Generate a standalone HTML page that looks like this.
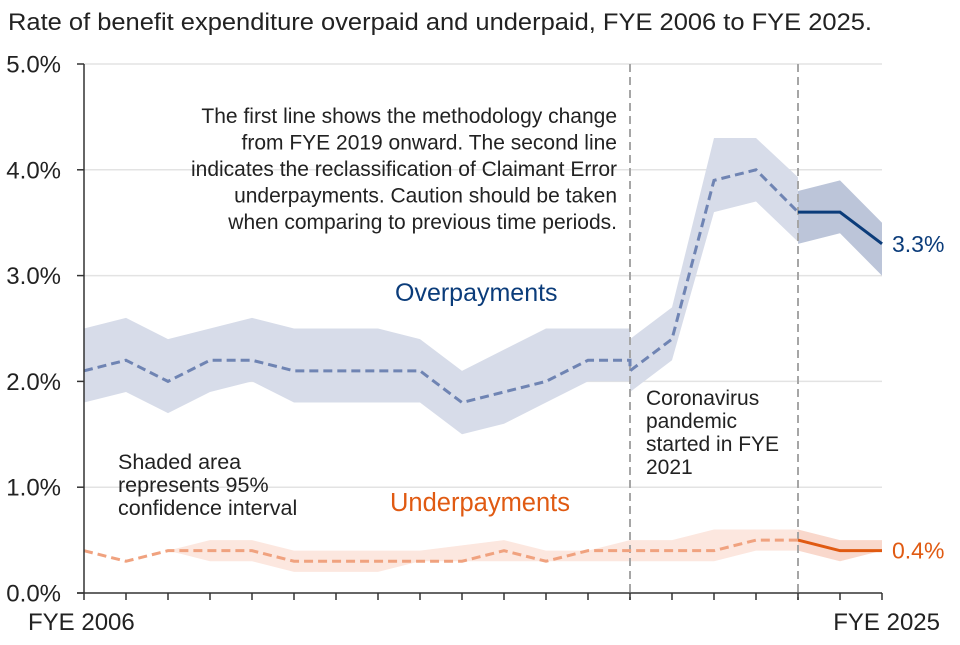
<!DOCTYPE html>
<html><head><meta charset="utf-8"><style>
body{margin:0;background:#fff;font-family:"Liberation Sans",Arial,sans-serif}
svg text{font-family:"Liberation Sans",Arial,sans-serif}
</style></head><body>
<svg id="c" width="960" height="640" xmlns="http://www.w3.org/2000/svg">
<text x="8" y="30" font-size="24" textLength="864" lengthAdjust="spacingAndGlyphs" fill="#222">Rate of benefit expenditure overpaid and underpaid, FYE 2006 to FYE 2025.</text>
</svg>
<script>
const years=["FYE 2006","FYE 2007","FYE 2008","FYE 2009","FYE 2010","FYE 2011","FYE 2012","FYE 2013","FYE 2014","FYE 2015","FYE 2016","FYE 2017","FYE 2018","FYE 2019","FYE 2020","FYE 2021","FYE 2022","FYE 2023","FYE 2024","FYE 2025"];
const yTicks=[0,1,2,3,4,5];
// Overpayments (old method idx 0-13, new method idx 13-19)
const overOld=[2.1,2.2,2.0,2.2,2.2,2.1,2.1,2.1,2.1,1.8,1.9,2.0,2.2,2.2];
const overOldHi=[2.5,2.6,2.4,2.5,2.6,2.5,2.5,2.5,2.4,2.1,2.3,2.5,2.5,2.5];
const overOldLo=[1.8,1.9,1.7,1.9,2.0,1.8,1.8,1.8,1.8,1.5,1.6,1.8,2.0,2.0];
const overNew=[2.1,2.4,3.9,4.0,3.6,3.6,3.3];
const overNewHi=[2.4,2.7,4.3,4.3,3.8,3.9,3.5];
const overNewLo=[1.9,2.2,3.6,3.7,3.3,3.4,3.0];
const overPrevHi17=3.93, overPrevLo17=3.32;
// Underpayments
const under=[0.4,0.3,0.4,0.4,0.4,0.3,0.3,0.3,0.3,0.3,0.4,0.3,0.4,0.4,0.4,0.4,0.5,0.5,0.4,0.4];
const underHi=[0.4,0.3,0.4,0.5,0.5,0.4,0.4,0.4,0.4,0.45,0.5,0.4,0.4,0.5,0.5,0.6,0.6,0.6,0.5,0.5];
const underLo=[0.4,0.3,0.4,0.3,0.3,0.2,0.2,0.2,0.3,0.3,0.3,0.3,0.3,0.3,0.3,0.3,0.4,0.4,0.3,0.4];

const svg=document.getElementById('c');
const NS="http://www.w3.org/2000/svg";
const X=i=>84+i*(882-84)/(years.length-1);
const Y=v=>593-v*(593-64)/5;
function mk(tag,attrs,parent){const e=document.createElementNS(NS,tag);for(const k in attrs)e.setAttribute(k,attrs[k]);(parent||svg).appendChild(e);return e;}
function pts(arr,start){return arr.map((v,j)=>X(start+j)+','+Y(v)).join(' ');}
function band(hi,lo,start){return pts(hi,start)+' '+lo.map((v,j)=>[start+j,v]).reverse().map(p=>X(p[0])+','+Y(p[1])).join(' ');}

yTicks.forEach(t=>{
 if(t>0){const g=mk('line',{x1:84,x2:882,y1:Y(t),y2:Y(t),stroke:'#e3e3e3','stroke-width':1.5});
 
 }
 const l=mk('text',{x:61,y:Y(t)+8.5,'font-size':24,fill:'#222','text-anchor':'end'});l.textContent=t.toFixed(1)+'%';
 
 
});
let b=mk('polygon',{points:band(overOldHi,overOldLo,0),fill:'#d7dce9'});


b=mk('polygon',{points:band(overNewHi.slice(0,4).concat([overPrevHi17]),overNewLo.slice(0,4).concat([overPrevLo17]),13),fill:'#d7dce9'});


b=mk('polygon',{points:band(overNewHi.slice(4),overNewLo.slice(4),17),fill:'#bcc5d9'});


b=mk('polygon',{points:band(underHi.slice(0,18),underLo.slice(0,18),0),fill:'#fce7df'});


b=mk('polygon',{points:band(underHi.slice(17),underLo.slice(17),17),fill:'#f9d8cc'});


[13,17].forEach(i=>{const v=mk('line',{x1:X(i),x2:X(i),y1:64,y2:600,stroke:'#a6a6a6','stroke-width':2,'stroke-dasharray':'8,5'});
 
 });
let l=mk('polyline',{points:pts(overOld,0)+' '+pts(overNew.slice(0,5),13),fill:'none',stroke:'#6f84b3','stroke-width':3,'stroke-dasharray':'9,5'});


l=mk('polyline',{points:pts(overNew.slice(4),17),fill:'none',stroke:'#0b3c7a','stroke-width':3});


l=mk('polyline',{points:pts(under.slice(0,18),0),fill:'none',stroke:'#f0a27f','stroke-width':3,'stroke-dasharray':'9,5'});


l=mk('polyline',{points:pts(under.slice(17),17),fill:'none',stroke:'#e05a12','stroke-width':3});


let a=mk('line',{x1:84,x2:84,y1:64,y2:593,stroke:'#333','stroke-width':1.5});


a=mk('line',{x1:77,x2:882,y1:593,y2:593,stroke:'#333','stroke-width':1.5});


yTicks.forEach(t=>{const k=mk('line',{x1:77,x2:84,y1:Y(t),y2:Y(t),stroke:'#333','stroke-width':1.5});
 
 });
years.forEach((y,i)=>{const k=mk('line',{x1:X(i),x2:X(i),y1:593,y2:600,stroke:'#333','stroke-width':1.5});
 
 });
[[0,'start',28],[years.length-1,'end',940]].forEach(([i,anc,x])=>{const t=mk('text',{x:x,y:630,'font-size':24,fill:'#222','text-anchor':anc});t.textContent=years[i];
 
 });
function txt(s,x,y,size,fill,anchor,name){const t=mk('text',{x:x,y:y,'font-size':size,fill:fill,'text-anchor':anchor||'start'});t.textContent=s;
 
 return t;}
txt((overNew[6]).toFixed(1)+'%',892,Y(overNew[6])+8,23,'#0b3c7a','start','overpayments-end-label');
txt((under[19]).toFixed(1)+'%',892,Y(under[19])+8,23,'#e05a12','start','underpayments-end-label');
txt('Overpayments',395,301,25,'#0b3c7a','start','overpayments-label');
txt('Underpayments',390,511,25.5,'#e05a12','start','underpayments-label');
['The first line shows the methodology change','from FYE 2019 onward. The second line','indicates the reclassification of Claimant Error','underpayments. Caution should be taken','when comparing to previous time periods.'].forEach((s,i)=>txt(s,617,123+i*26.5,21,'#222','end','methodology-note'));
['Coronavirus','pandemic','started in FYE','2021'].forEach((s,i)=>txt(s,646,405+i*23,21,'#222','start','pandemic-note'));
['Shaded area','represents 95%','confidence interval'].forEach((s,i)=>txt(s,118,469+i*23,21.5,'#222','start','ci-note'));
</script>
</body></html>
